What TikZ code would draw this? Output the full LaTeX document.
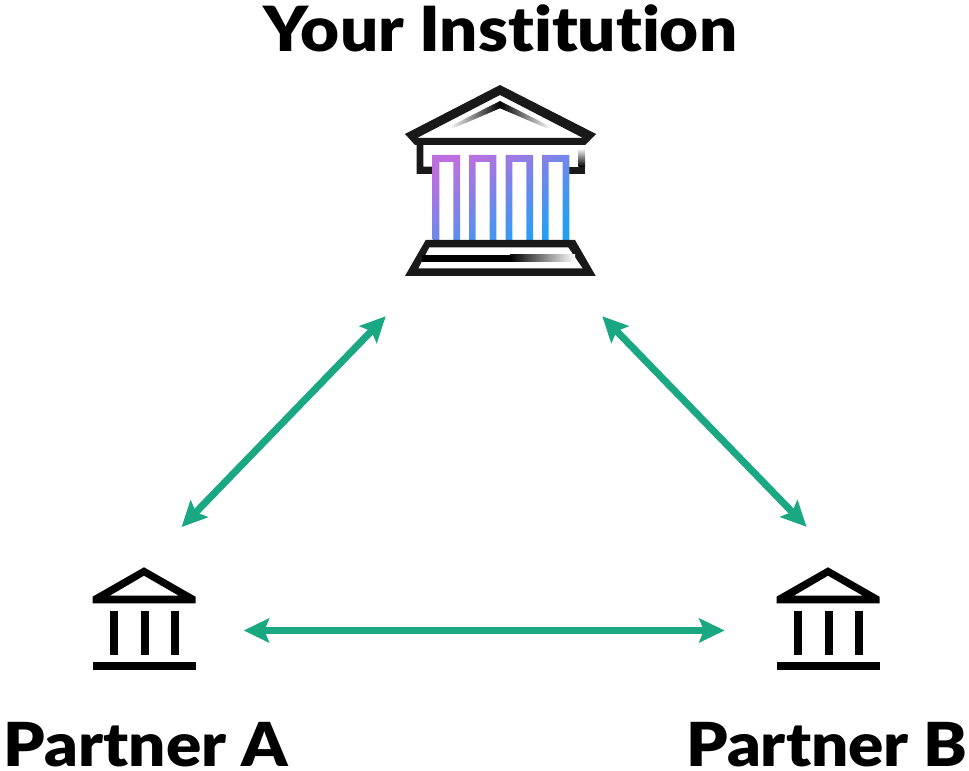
\documentclass[tikz,border=0pt]{standalone}
\usepackage{fontspec}
\setmainfont{Lato}[BoldFont={Lato Black}, BoldFeatures={FakeStretch=1.08, Ligatures=NoCommon}]
\usetikzlibrary{arrows.meta}
\definecolor{linkgreen}{HTML}{1AA882}
\definecolor{colpurple}{HTML}{BC70DF}
\definecolor{colblue}{HTML}{259FF6}
\tikzset{
    link/.style={linkgreen, line width=5.3pt, {Stealth[length=19pt, width=18pt, inset=3.5pt]}-{Stealth[length=19pt, width=18pt, inset=3.5pt]}},
    banklabel/.style={font=\bfseries\fontsize{45.5}{45.5}\selectfont, inner sep=0pt, anchor=base},
    smallbank/.pic={
        \fill[black, even odd rule] (-51.5,16.7) -- (-51.5,23.3) -- (0,52.7) -- (51.5,23.3) -- (51.5,16.7) -- cycle
            (-34.2,24.3) -- (0,44.3) -- (34.8,24.3) -- cycle;
        \foreach \x in {-34.5,-3.5,27}
            \fill[black] (\x,-35) rectangle (\x+8,9);
        \fill[black] (-51.5,-50.3) rectangle (51.5,-42.3);
    }
}

\begin{document}
\begin{tikzpicture}[x=0.75pt, y=0.75pt]
    \useasboundingbox (0,0) rectangle (969,770);

    % invisible holders, the arrows end on these
    \node[minimum width=162pt, minimum height=177pt, inner sep=0pt] (inst) at (494,572) {};
    \node[circle, minimum size=150pt, inner sep=0pt] (partnerA) at (144,150) {};
    \node[circle, minimum size=154.8pt, inner sep=0pt] (partnerB) at (828,142) {};

    % roof
    \fill[black!90, even odd rule] (405,636) -- (500,685) -- (596,636) -- (585,625) -- (415,625) -- cycle
        (417,632) -- (500,675) -- (583,632) -- cycle;
    \shade[left color=white, right color=white, middle color=black]
        (449.3,643.3) -- (500,669) -- (550.7,643.3) -- (546.7,641.7) -- (500,661.7) -- (453.3,641.7) -- cycle;
    % beam
    \fill[black!90] (416.7,625) -- (423.3,625) -- (423.3,603.3) -- (433,603.3) -- (433,596) -- (416.7,596) -- cycle;
    \fill[black!90] (569,596) rectangle (585,603.3);
    \shade[top color=white, bottom color=black] (578.3,603.3) rectangle (585,621.7);

    % columns
    \begin{scope}
        \clip \foreach \x in {432.7,469,505.7,542} {
            (\x,530) -- (\x,615) -- (\x+27.3,615) -- (\x+27.3,530) -- (\x+20.6,530)
            -- (\x+20.6,608) -- (\x+6.7,608) -- (\x+6.7,530) -- cycle};
        \shade[top color=colpurple, bottom color=colblue, shading angle=30] (432,530) rectangle (570,615);
    \end{scope}

    % base
    \fill[black!90, even odd rule] (425.7,530) -- (575,530) -- (595.7,494) -- (405,494) -- cycle
        (429.3,522.7) -- (568.3,522.7) -- (582.7,501.7) -- (418.3,501.7) -- cycle;
    \fill[black] (422,508.3) rectangle (510,515);
    \shade[left color=black, right color=white] (510,508.3) rectangle (575,515);

    \pic at (144,150) {smallbank};
    \pic at (828,150) {smallbank};

    \node[banklabel, font=\bfseries\fontsize{46.7}{46.7}\selectfont] (instLabel) at (500.5,718) {Your Institution};
    \node[banklabel] (labelA) at (146,4) {Partner A};
    \node[banklabel] (labelB) at (827,4) {Partner B};

    \draw[link] (partnerA.68.3) -- (inst.south west);
    \draw[link] (partnerB.102.3) -- (inst.south east);
    \draw[link] (partnerA.-6.6) -- (partnerA.-6.6 -| partnerB.181.7);
\end{tikzpicture}
\end{document}
